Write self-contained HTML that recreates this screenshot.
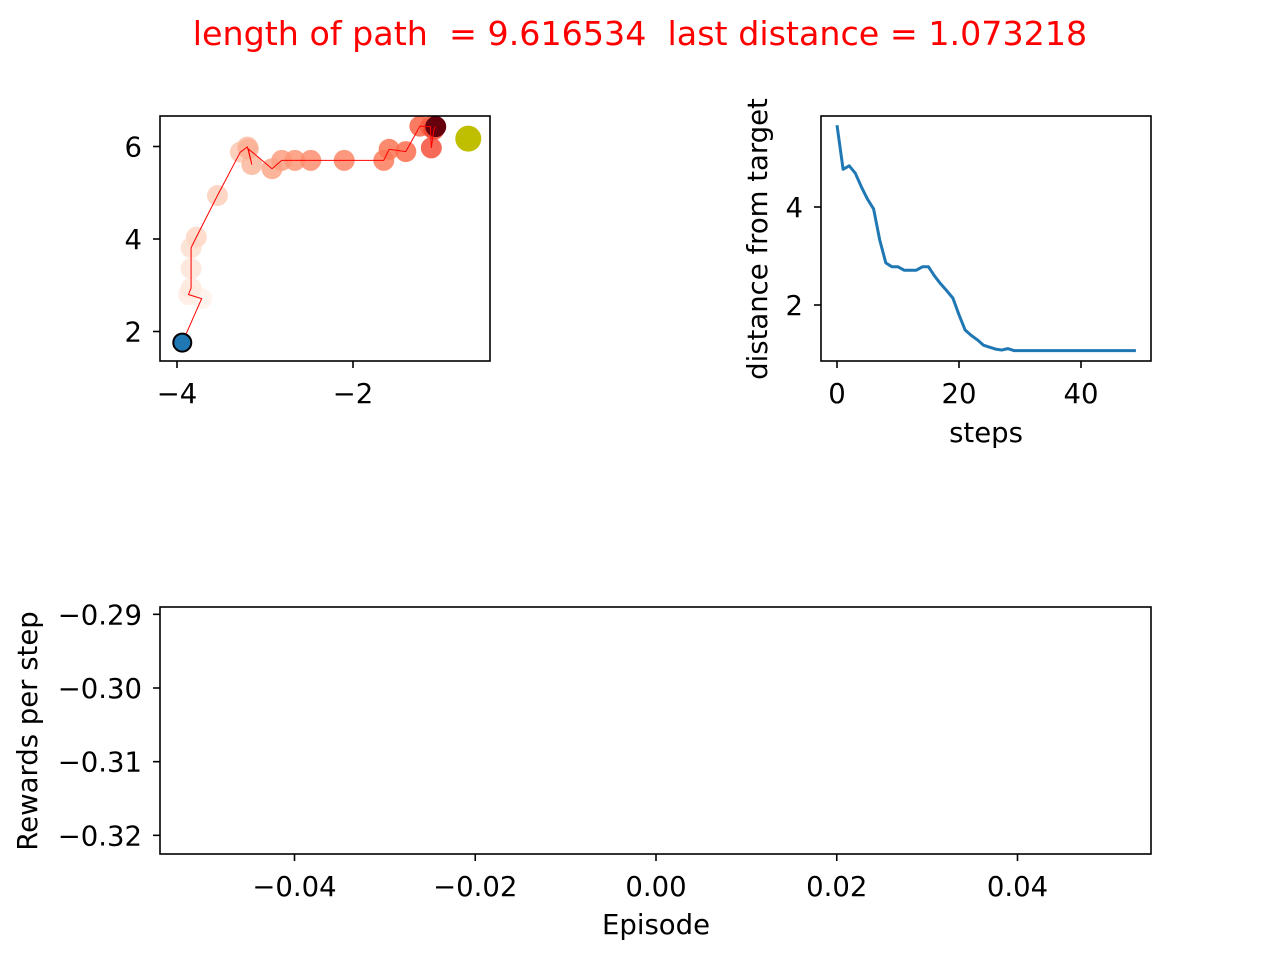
<!DOCTYPE html>
<html><head><meta charset="utf-8"><style>
body{margin:0;background:#fff;}
svg text{font-family:"DejaVu Sans","Liberation Sans",sans-serif;white-space:pre;}
</style></head><body>
<svg id="fig" width="1280" height="960" xmlns="http://www.w3.org/2000/svg">
<rect width="1280" height="960" fill="#fff"/>
<text x="640" y="45" text-anchor="middle" font-size="33.3" fill="#ff0000" xml:space="preserve">length of path  = 9.616534  last distance = 1.073218</text>
<g id="ax1"></g>
<g id="ax2"></g>
<g id="ax3"></g>
</svg>
<script>
// Path plot data
const pathX = [-3.94,-3.72,-3.87,-3.84,-3.84,-3.84,-3.78,-3.54,-3.28,-3.20,-3.15,-3.19,-2.92,-2.81,-2.66,-2.48,-2.10,-1.65,-1.59,-1.40,-1.24,-1.12,-1.11,-1.08,-1.06];
const pathY = [1.76,2.71,2.80,2.94,3.36,3.81,4.04,4.94,5.88,5.99,5.61,5.95,5.52,5.70,5.70,5.70,5.70,5.70,5.94,5.89,6.44,6.43,5.97,6.37,6.43];
const targetX = [-0.69];
const targetY = [6.17];
const pathXTicks = [-4,-2];
const pathYTicks = [2,4,6];
// Distance plot data
const distSteps = Array.from({length:50},(_, i)=>i);
const distValues = [5.67,4.77,4.84,4.69,4.41,4.16,3.96,3.33,2.86,2.78,2.78,2.71,2.71,2.71,2.78,2.78,2.59,2.43,2.29,2.14,1.80,1.49,1.38,1.29,1.18,1.14,1.10,1.08,1.11,1.07,1.07,1.07,1.07,1.07,1.07,1.07,1.07,1.07,1.07,1.07,1.07,1.07,1.07,1.07,1.07,1.07,1.07,1.07,1.07,1.07];
const distXTicks = [0,20,40];
const distYTicks = [2,4];
// Rewards plot
const rewXTicks = [-0.04,-0.02,0.00,0.02,0.04];
const rewXLabels = ["\u22120.04","\u22120.02","0.00","0.02","0.04"];
const rewYTicks = [-0.29,-0.30,-0.31,-0.32];
const rewYLabels = ["\u22120.29","\u22120.30","\u22120.31","\u22120.32"];

const NS="http://www.w3.org/2000/svg";
function mk(parent,tag,attrs,text){const e=document.createElementNS(NS,tag);for(const k in attrs)e.setAttribute(k,attrs[k]);if(text!==undefined)e.textContent=text;parent.appendChild(e);return e;}
function fmt(v){return v<0?"\u2212"+Math.abs(v):String(v);}
const FS=27.5;

function frame(g,x0,y0,x1,y1){const r=mk(g,'rect',{x:x0,y:y0,width:x1-x0,height:y1-y0,fill:'none',stroke:'#000','stroke-width':1.6});

}
function xtick(g,px,y1,label){const l=mk(g,'line',{x1:px,x2:px,y1:y1,y2:y1+7,stroke:'#000','stroke-width':1.6});


const t=mk(g,'text',{x:px,y:y1+42,'font-size':FS,'text-anchor':'middle'},label);

}
function ytick(g,py,x0,label){const l=mk(g,'line',{x1:x0-7,x2:x0,y1:py,y2:py,stroke:'#000','stroke-width':1.6});


const t=mk(g,'text',{x:x0-18,y:py+10,'font-size':FS,'text-anchor':'end'},label);

}

// Reds colormap approximation
const reds=[[255,245,240],[254,224,210],[252,187,161],[252,146,114],[251,106,74],[239,59,44],[203,24,29],[165,15,21],[103,0,13]];
function redsAt(t){const p=t*(reds.length-1);const i=Math.min(Math.floor(p),reds.length-2);const f=p-i;const c=reds[i].map((v,k)=>Math.round(v+(reds[i+1][k]-v)*f));return `rgb(${c[0]},${c[1]},${c[2]})`;}

// Axes 1
(function(){
 const g=document.getElementById('ax1');
 const X0=160,X1=490,Y0=116,Y1=361;
 const sx=v=>177+(v+4)*88, sy=v=>239-(v-4)*46.25;
 const n=pathX.length;
 for(let i=1;i<n;i++){const last=i===n-1;const c=mk(g,'circle',{cx:sx(pathX[i]),cy:sy(pathY[i]),r:10.5,fill:last?redsAt(1):redsAt(i/(n-1)*0.62),'fill-opacity':last?1:0.85});
  
  }
 const pts=pathX.map((v,i)=>sx(v)+','+sy(pathY[i])).join(' ');
 const pl=mk(g,'polyline',{points:pts,fill:'none',stroke:'#ff0000','stroke-width':1});
 
 
 const s=mk(g,'circle',{cx:sx(pathX[0]),cy:sy(pathY[0]),r:9,fill:'#1f77b4',stroke:'#000','stroke-width':2});
 
 
 const t=mk(g,'circle',{cx:sx(targetX[0]),cy:sy(targetY[0]),r:13,fill:'#bfbf00'});
 
 
 frame(g,X0,Y0,X1,Y1);
 pathXTicks.forEach(v=>xtick(g,sx(v),Y1,fmt(v)));
 pathYTicks.forEach(v=>ytick(g,sy(v),X0,fmt(v)));
})();

// Axes 2
(function(){
 const g=document.getElementById('ax2');
 const X0=821,X1=1151,Y0=116,Y1=361;
 const sx=v=>837+v*6.1, sy=v=>207-(v-4)*49;
 const pts=distSteps.map((s,i)=>sx(s)+','+sy(distValues[i])).join(' ');
 const pl=mk(g,'polyline',{points:pts,fill:'none',stroke:'#1f77b4','stroke-width':3,'stroke-linejoin':'round'});
 
 
 frame(g,X0,Y0,X1,Y1);
 distXTicks.forEach(v=>xtick(g,sx(v),Y1,fmt(v)));
 distYTicks.forEach(v=>ytick(g,sy(v),X0,fmt(v)));
 const xl=mk(g,'text',{x:986,y:442,'font-size':FS,'text-anchor':'middle'},'steps');
 
 
 const yl=mk(g,'text',{x:0,y:0,'font-size':FS,'text-anchor':'middle',transform:'translate(767,239) rotate(-90)'},'distance from target');
 
 
})();

// Axes 3
(function(){
 const g=document.getElementById('ax3');
 const X0=160,X1=1151,Y0=607,Y1=854;
 const sx=v=>656+v*9037.5, sy=v=>688-(v+0.30)*7366.7;
 frame(g,X0,Y0,X1,Y1);
 rewXTicks.forEach((v,i)=>xtick(g,sx(v),Y1,rewXLabels[i]));
 rewYTicks.forEach((v,i)=>ytick(g,sy(v),X0,rewYLabels[i]));
 const xl=mk(g,'text',{x:656,y:934,'font-size':FS,'text-anchor':'middle'},'Episode');
 
 
 const yl=mk(g,'text',{x:0,y:0,'font-size':FS,'text-anchor':'middle',transform:'translate(37,731) rotate(-90)'},'Rewards per step');
 
 
})();
</script>
</body></html>
